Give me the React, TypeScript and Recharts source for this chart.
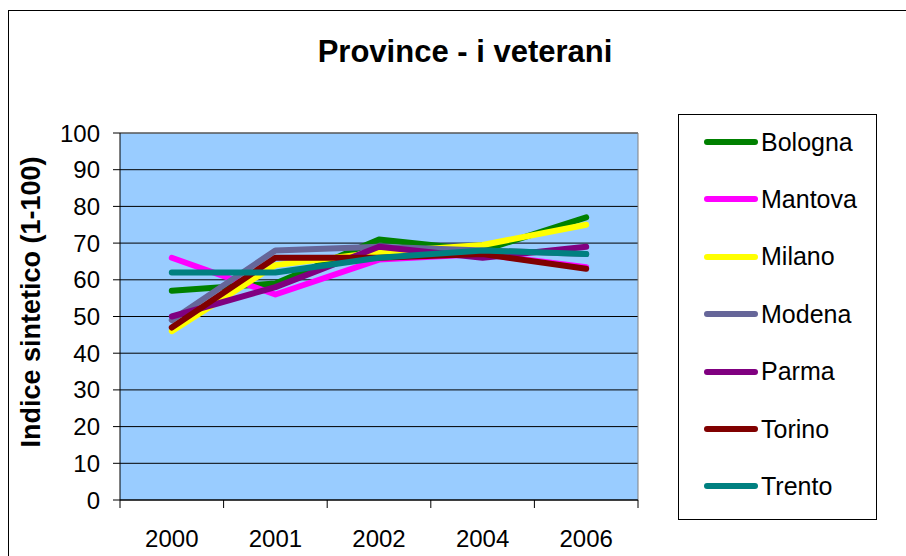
import { CartesianGrid, Line, LineChart, ReferenceLine, XAxis, YAxis } from 'recharts'

const years = ['2000', '2001', '2002', '2004', '2006']
const bologna = [57, 59, 71, 68, 77]
const mantova = [66, 56, 65.5, 67, 63.4]
const milano = [46, 64, 67.5, 69.5, 75]
const modena = [49, 68, 69, 68, 67]
const parma = [50, 58, 69, 66, 69]
const torino = [47, 66, 66, 67, 63]
const trento = [62, 62, 66, 68, 67]
const yTicks = [0, 10, 20, 30, 40, 50, 60, 70, 80, 90, 100]

const series = [
  { name: 'Bologna', color: '#008000', values: bologna },
  { name: 'Mantova', color: '#FF00FF', values: mantova },
  { name: 'Milano', color: '#FFFF00', values: milano },
  { name: 'Modena', color: '#666699', values: modena },
  { name: 'Parma', color: '#800080', values: parma },
  { name: 'Torino', color: '#800000', values: torino },
  { name: 'Trento', color: '#008080', values: trento },
]

const data = years.map((year, i) => {
  const row: Record<string, number | string> = { idx: i, year }
  series.forEach((s) => {
    row[s.name] = s.values[i]
  })
  return row
})

// labels sit on whole indexes, tick marks on the category boundaries
const xTicks: number[] = []
for (let i = 0; i <= years.length * 2; i++) xTicks.push(i / 2 - 0.5)

const font = '"Liberation Sans", Arial, sans-serif'

function XTick({ x, y, payload }: any) {
  const v = payload.value as number
  if (Number.isInteger(v)) {
    return (
      <text x={x} y={y + 39} textAnchor="middle" fontSize={24} fill="#000" fontFamily={font}>
        {years[v]}
      </text>
    )
  }
  return <line x1={x} x2={x} y1={y - 8} y2={y} stroke="#000" strokeWidth={1} />
}

function LegendBox() {
  return (
    <div
      style={{
        position: 'absolute',
        left: 678,
        top: 114,
        width: 199,
        height: 406,
        border: '1px solid #000',
        boxSizing: 'border-box',
        background: '#fff',
      }}
    >
      {series.map((s, i) => (
        <div
          key={s.name}
          style={{ position: 'absolute', left: 0, top: 27 + i * 57.4 - 16, height: 32, display: 'flex', alignItems: 'center' }}
        >
          <svg width={84} height={32}>
            <line x1={28} x2={76} y1={16} y2={16} stroke={s.color} strokeWidth={6} strokeLinecap="round" />
          </svg>
          <span style={{ fontSize: 25, fontFamily: font, color: '#000', marginLeft: -2 }}>{s.name}</span>
        </div>
      ))}
    </div>
  )
}

export default function App() {
  return (
    <div style={{ position: 'fixed', left: 0, top: 0, width: 906, height: 556, overflow: 'hidden', background: '#fff' }}>
      <div style={{ position: 'absolute', left: 8, top: 10, width: 1000, height: 1000, border: '1px solid #000' }} />
      <div
        style={{
          position: 'absolute',
          left: 465,
          top: 52,
          transform: 'translate(-50%, -50%)',
          fontFamily: font,
          fontWeight: 'bold',
          fontSize: 31,
          whiteSpace: 'nowrap',
        }}
      >
        Province - i veterani
      </div>
      <div
        style={{
          position: 'absolute',
          left: 31,
          top: 302,
          transform: 'translate(-50%, -50%) rotate(-90deg)',
          fontFamily: font,
          fontWeight: 'bold',
          fontSize: 27,
          whiteSpace: 'nowrap',
        }}
      >
        Indice sintetico (1-100)
      </div>
      <div style={{ position: 'absolute', left: 0, top: 0 }}>
        <LineChart width={906} height={556} data={data} margin={{ top: 133, right: 268, bottom: 0, left: 0 }}>
          <CartesianGrid fill="#99CCFF" fillOpacity={1} stroke="#000" vertical={false} horizontalValues={yTicks} />
          <XAxis
            dataKey="idx"
            type="number"
            domain={[-0.5, years.length - 0.5]}
            ticks={xTicks}
            interval={0}
            height={56}
            tickLine={false}
            tickSize={8}
            tickMargin={0}
            axisLine={{ stroke: '#000' }}
            tick={<XTick />}
          />
          <YAxis
            domain={[0, 100]}
            ticks={yTicks}
            interval={0}
            width={120}
            tickSize={7}
            tickMargin={13}
            axisLine={{ stroke: '#000' }}
            tickLine={{ stroke: '#000' }}
            tick={{ fill: '#000', fontSize: 24, fontFamily: font }}
          />
          <ReferenceLine y={100} stroke="#808080" />
          <ReferenceLine x={years.length - 0.5} stroke="#808080" />
          {series.map((s) => (
            <Line
              key={s.name}
              dataKey={s.name}
              stroke={s.color}
              strokeWidth={6}
              strokeLinecap="round"
              strokeLinejoin="round"
              dot={false}
              activeDot={false}
              isAnimationActive={false}
            />
          ))}
        </LineChart>
      </div>
      <LegendBox />
    </div>
  )
}
